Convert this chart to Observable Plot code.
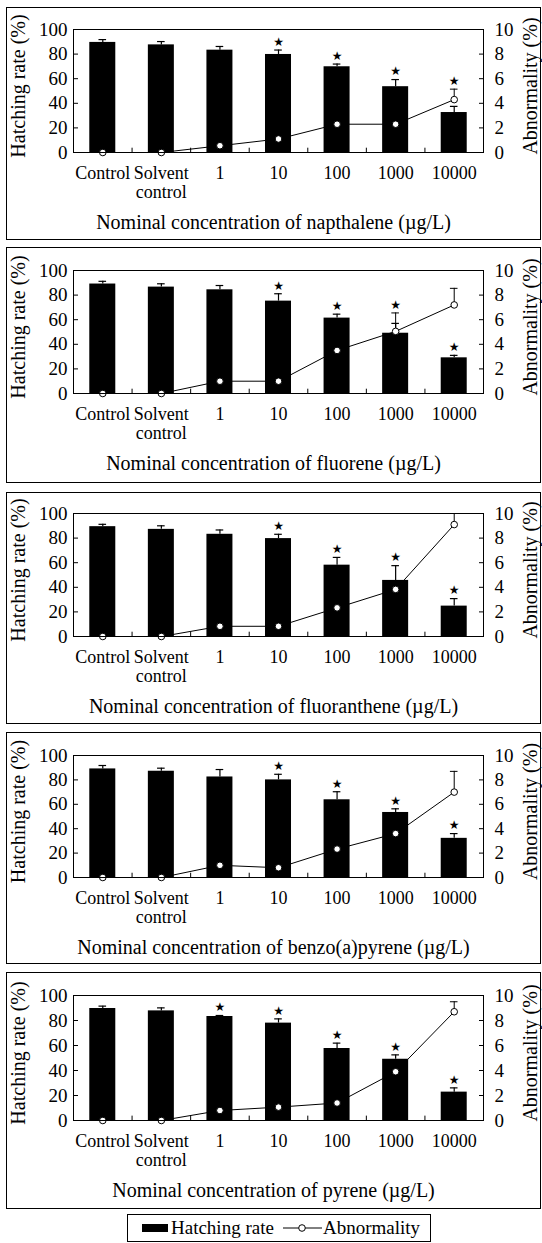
<!DOCTYPE html>
<html><head><meta charset="utf-8">
<script src="https://cdn.jsdelivr.net/npm/d3@7"></script>
<script src="https://cdn.jsdelivr.net/npm/@observablehq/plot@0.6"></script>
<style>
body{margin:0;background:#fff;font-family:"Liberation Serif","Times New Roman",serif;color:#000;}
#root{position:relative;width:542px;height:1243px;overflow:hidden;}
.panel{position:absolute;left:6px;width:535px;border:1px solid #000;box-sizing:border-box;}
.panel svg{position:absolute;left:0;top:0;overflow:visible;}
.panel svg text{font-family:"Liberation Serif","Times New Roman",serif;}
.panel svg text.star{font-family:"DejaVu Sans",sans-serif;}
.title{position:absolute;left:0;width:100%;text-align:center;font-size:20px;line-height:22px;white-space:nowrap;}
.legend{position:absolute;left:127px;top:1214px;width:304px;height:28px;border:1px solid #000;box-sizing:border-box;font-size:19px;font-family:"Liberation Serif",serif;}
.legend span{position:absolute;top:2px;white-space:nowrap;}
</style></head><body><div id="root"></div>
<script>
// ---- data ----
const categories = ["Control", "Solvent\ncontrol", "1", "10", "100", "1000", "10000"];
const chemicals = ["napthalene", "fluorene", "fluoranthene", "benzo(a)pyrene", "pyrene"];

const hatchNap = [89.5, 87.5, 83.2, 79.7, 69.7, 53.5, 32.5];
const hatchNapErr = [2.3, 2.7, 3.0, 3.6, 2.2, 5.8, 5.0];
const hatchFlu = [89.0, 86.5, 84.3, 75.1, 61.3, 49.0, 29.0];
const hatchFluErr = [2.2, 2.7, 3.5, 6.0, 3.2, 8.0, 2.0];
const hatchFla = [89.3, 87.1, 83.1, 79.6, 58.0, 45.6, 24.7];
const hatchFlaErr = [1.9, 2.9, 3.5, 3.5, 6.3, 12.0, 6.1];
const hatchBap = [89.0, 87.1, 82.4, 80.0, 63.7, 53.3, 32.1];
const hatchBapErr = [2.8, 2.5, 6.1, 4.6, 6.6, 3.0, 3.9];
const hatchPyr = [89.6, 87.7, 83.2, 77.9, 57.6, 49.0, 22.7];
const hatchPyrErr = [1.9, 2.4, 0.8, 3.4, 4.3, 3.5, 3.4];

const abnNap = [0, 0, 0.55, 1.1, 2.3, 2.3, 4.3];
const abnNapErr = [null, null, null, null, null, null, 0.85];
const abnFlu = [0, 0, 1.0, 1.0, 3.5, 5.05, 7.2];
const abnFluErr = [null, null, null, null, null, 1.5, 1.35];
const abnFla = [0, 0, 0.83, 0.83, 2.33, 3.83, 9.1];
const abnFlaErr = [null, null, null, null, null, null, 0.9];
const abnBap = [0, 0, 1.0, 0.8, 2.33, 3.6, 7.0];
const abnBapErr = [null, null, null, null, null, null, 1.7];
const abnPyr = [0, 0, 0.8, 1.07, 1.4, 3.9, 8.7];
const abnPyrErr = [null, null, null, null, null, null, 0.8];

const sigNap = [0, 0, 0, 1, 1, 1, 1];
const sigFlu = [0, 0, 0, 1, 1, 1, 1];
const sigFla = [0, 0, 0, 1, 1, 1, 1];
const sigBap = [0, 0, 0, 1, 1, 1, 1];
const sigPyr = [0, 0, 1, 1, 1, 1, 1];

const leftTicks = [0, 20, 40, 60, 80, 100];
const rightTickLabels = ["0", "2", "4", "6", "8", "10"];
const yLabelLeft = "Hatching rate (%)";
const yLabelRight = "Abnormality (%)";
const legendLabels = ["Hatching rate", "Abnormality"];

const series = [
  [hatchNap, hatchNapErr, abnNap, abnNapErr, sigNap],
  [hatchFlu, hatchFluErr, abnFlu, abnFluErr, sigFlu],
  [hatchFla, hatchFlaErr, abnFla, abnFlaErr, sigFla],
  [hatchBap, hatchBapErr, abnBap, abnBapErr, sigBap],
  [hatchPyr, hatchPyrErr, abnPyr, abnPyrErr, sigPyr]
];

// ---- layout (box top, box bottom, frame top, frame bottom) ----
const layout = [
  [7, 239, 29, 152],
  [247, 482, 270, 393],
  [492, 723, 513, 636],
  [732, 963, 755, 877],
  [972, 1208, 995, 1120]
];

const root = document.getElementById("root");
const serif = "Liberation Serif";

series.forEach(([h, he, a, ae, sig], k) => {
  const [bt, bb, ft, fb] = layout[k];
  const box = document.createElement("div");
  box.className = "panel";
  box.style.top = bt + "px";
  box.style.height = (bb - bt + 1) + "px";
  root.appendChild(box);

  const H = bb - bt - 1;
  const mt = ft - (bt + 1);
  const mb = bb - fb;

  const rows = categories.map((c, i) => ({i, c, h: h[i], he: he[i], a: a[i], ae: ae[i], sig: sig[i]}));
  const aeRows = rows.filter(d => d.ae != null);
  const starRows = rows.filter(d => d.sig);
  const starTop = d => {
    const t = d.h + d.he;
    if (d.ae != null && d.a * 10 > d.h && d.a * 10 <= t + 10) return Math.max(t, (d.a + d.ae) * 10);
    return t;
  };

  const svg = Plot.plot({
    width: 533, height: H,
    marginLeft: 66, marginRight: 57, marginTop: mt, marginBottom: mb,
    style: "font-family: 'Liberation Serif', serif; font-size: 19px; color: #000; background: transparent; overflow: visible;",
    x: {domain: [-0.5, 6.5], axis: null},
    y: {domain: [0, 100], axis: null},
    marks: [
      Plot.rectY(rows, {x1: d => d.i - 0.222, x2: d => d.i + 0.222, y1: 0, y2: "h", fill: "#000"}),
      Plot.ruleX(rows, {x: "i", y1: "h", y2: d => d.h + d.he, stroke: "#000", strokeWidth: 1.2}),
      Plot.ruleY(rows, {y: d => d.h + d.he, x1: d => d.i - 0.065, x2: d => d.i + 0.065, stroke: "#000", strokeWidth: 1.2}),
      Plot.ruleX(aeRows, {x: "i", y1: d => d.a * 10, y2: d => (d.a + d.ae) * 10, stroke: "#000", strokeWidth: 1}),
      Plot.ruleY(aeRows, {y: d => (d.a + d.ae) * 10, x1: d => d.i - 0.065, x2: d => d.i + 0.065, stroke: "#000", strokeWidth: 1}),
      Plot.line(rows, {x: "i", y: d => d.a * 10, stroke: "#000", strokeWidth: 1}),
      Plot.dot(rows, {x: "i", y: d => d.a * 10, r: 3.3, fill: "#fff", stroke: "#000", strokeWidth: 1}),
      Plot.text(starRows, {x: "i", y: starTop, text: () => "★", dy: -8, fontSize: 12, fill: "#000"}),
      Plot.ruleX(d3.range(0.5, 6, 1), {x: d => d, y1: 0, y2: 3.5, stroke: "#000"}),
      Plot.frame({stroke: "#000"}),
      Plot.axisY({anchor: "left", ticks: leftTicks, tickSize: -5, tickPadding: 11, label: null, fontSize: 19}),
      Plot.axisY({anchor: "right", ticks: leftTicks, tickFormat: d => rightTickLabels[leftTicks.indexOf(d)], tickSize: -5, tickPadding: 16, label: null, fontSize: 19}),
      Plot.axisX({anchor: "bottom", ticks: d3.range(7), tickFormat: i => categories[i], tickSize: 0, tickPadding: 13, label: null, fontSize: 18, lineHeight: 1.05}),
      Plot.text([yLabelLeft], {text: d => d, frameAnchor: "left", textAnchor: "middle", rotate: -90, dx: -55, dy: -5, fontSize: 20}),
      Plot.text([yLabelRight], {text: d => d, frameAnchor: "right", textAnchor: "middle", rotate: -90, dx: 47, dy: -5, fontSize: 20})
    ]
  });
  // force serif on all svg text, star glyph in DejaVu Sans
  d3.select(svg).selectAll("text, g").attr("font-family", serif);
  d3.select(svg).selectAll("text").filter(function() { return this.textContent === "★"; })
    .attr("font-family", "DejaVu Sans").classed("star", true);
  box.appendChild(svg);

  const title = document.createElement("div");
  title.className = "title";
  title.style.top = (fb + 70 - (bt + 1) - 11) + "px";
  title.textContent = `Nominal concentration of ${chemicals[k]} (\u00b5g/L)`;
  box.appendChild(title);
});

// ---- legend ----
const leg = document.createElement("div");
leg.className = "legend";
leg.innerHTML = `
<svg width="300" height="26" style="position:absolute;left:0;top:0">
  <rect x="14" y="9" width="26" height="8" fill="#000"></rect>
  <line x1="155" y1="13" x2="194" y2="13" stroke="#000" stroke-width="1"></line>
  <circle cx="174" cy="13" r="3.3" fill="#fff" stroke="#000"></circle>
</svg>
<span style="left:43px">${legendLabels[0]}</span>
<span style="left:195px">${legendLabels[1]}</span>`;
root.appendChild(leg);
</script>
</body></html>
